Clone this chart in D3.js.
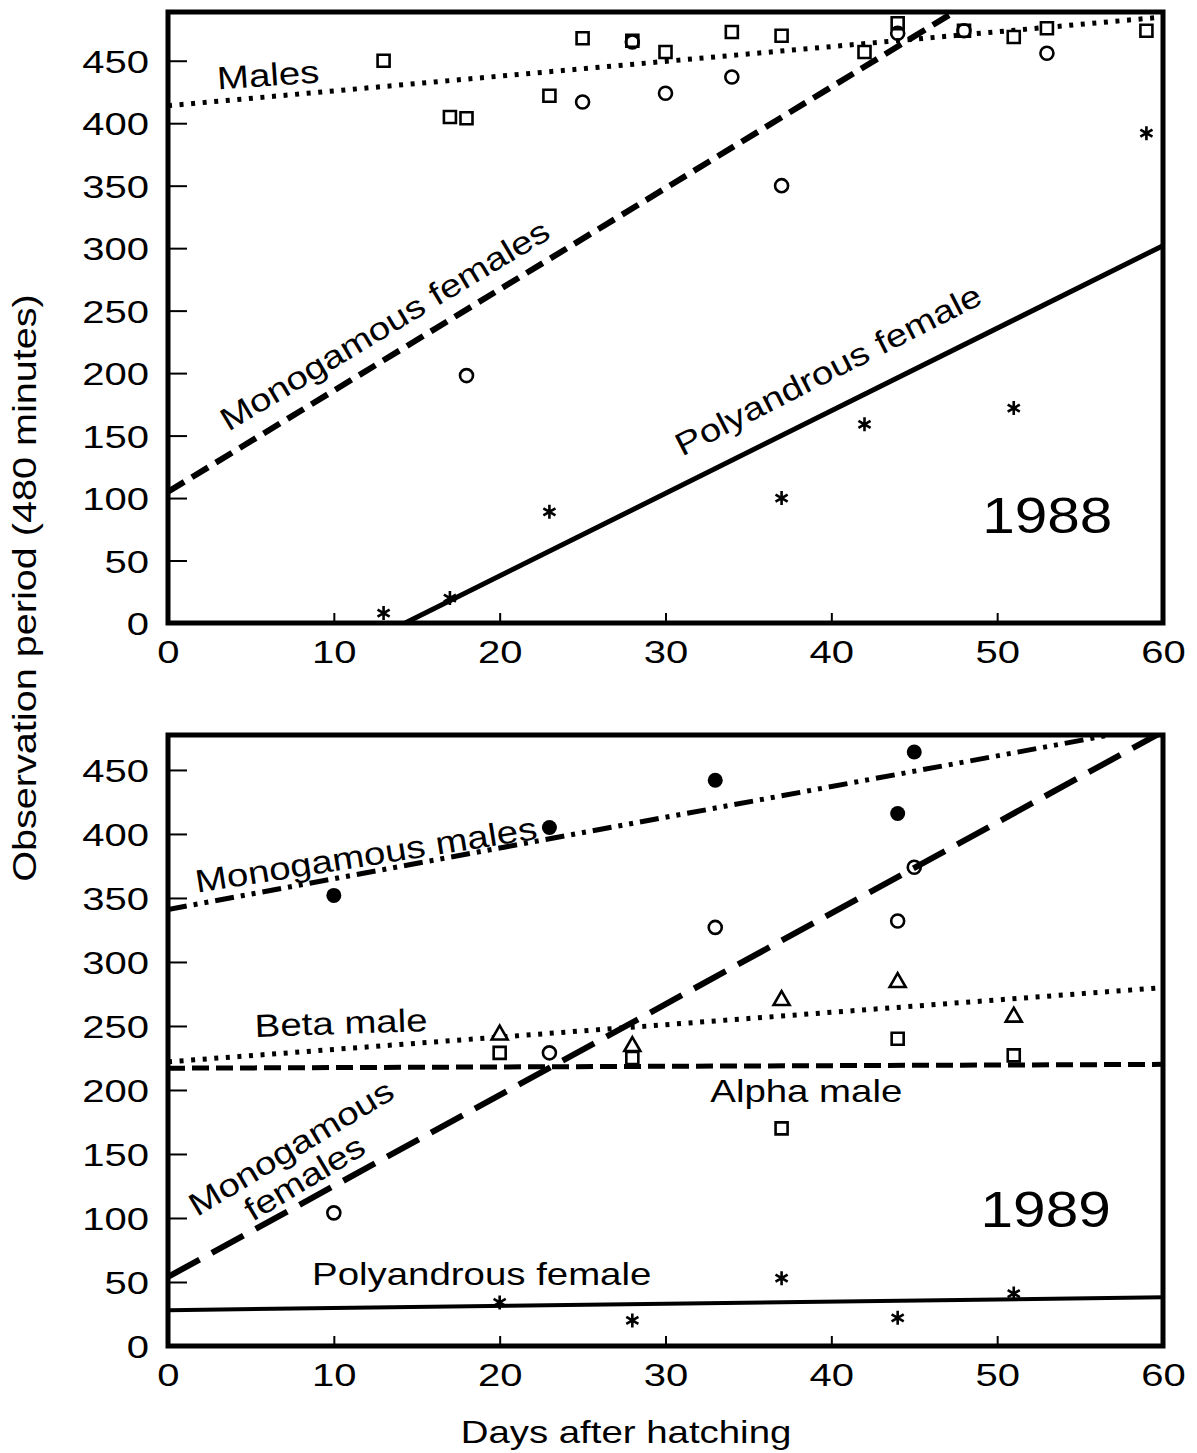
<!DOCTYPE html>
<html>
<head>
<meta charset="utf-8">
<script src="https://cdn.jsdelivr.net/npm/d3@7"></script>
<style>
  html, body { margin: 0; padding: 0; background: #fff; }
  svg { display: block; font-family: "Liberation Sans", Arial, Helvetica, sans-serif; }
</style>
</head>
<body>
<svg id="chart" width="1197" height="1453"></svg>
<script>
// ---- Axis ticks ----
const xTickValues = [0, 10, 20, 30, 40, 50, 60];
const yTickValues = [0, 50, 100, 150, 200, 250, 300, 350, 400, 450];

// ---- 1988: [day after hatching, minutes observed] ----
const males88 = [[13,450],[17,405],[18,404],[23,422],[25,468],[28,466],[30,457],[34,473],[37,470],[42,457],[44,480],[48,474],[51,469],[53,476],[59,474]];
const monoFemales88 = [[18,198],[25,417],[28,465],[30,424],[34,437],[37,350],[44,472],[48,474],[53,456]];
const polyFemale88 = [[13,8],[17,20],[23,89],[37,100],[42,159],[51,172],[59,392]];
// fitted trend lines (end points)
const males88Fit = [[0,414],[60,485]];
const monoFemales88Fit = [[0,105],[60,591]];
const polyFemale88Fit = [[14.3,0],[60,302]];

// ---- 1989 ----
const monoMales89 = [[10,352],[23,405],[33,442],[44,416],[45,464]];
const monoFemales89 = [[10,104],[23,229],[33,327],[44,332],[45,374]];
const betaMale89 = [[20,243],[28,234],[37,270],[44,284],[51,257]];
const alphaMale89 = [[20,229],[28,225],[37,170],[44,240],[51,227]];
const polyFemale89 = [[20,34],[28,20],[37,53],[44,22],[51,41]];
const monoMales89Fit = [[0,341],[60,485]];
const monoFemales89Fit = [[0,54],[60,480]];
const betaMale89Fit = [[0,222],[60,280]];
const alphaMale89Fit = [[0,217],[60,220]];
const polyFemale89Fit = [[0,28],[60,38]];

const svg = d3.select("#chart");
const FONT_SX = 1.2;     // wide sans used for labels
const DIGIT_SX = 1.25;   // wide digits on axes

const left = 168, right = 1163;
const x = d3.scaleLinear().domain([0, 60]).range([left, right]);

// custom asterisk (vertical stroke + two diagonals)
const asteriskPath = (r) => {
  const t = r * Math.sqrt(3) / 2, s = r / 2;
  return `M0,${-r}L0,${r}M${-t},${-s}L${t},${s}M${-t},${s}L${t},${-s}`;
};

function label(g, text, px, py, angle, size, sx) {
  g.append("text")
    .attr("transform", `translate(${px},${py}) rotate(${angle}) scale(${sx},1)`)
    .attr("font-size", size)
    .attr("fill", "#000")
    .text(text);
}

function panel(id, top, bottom, yMax) {
  const y = d3.scaleLinear().domain([0, yMax]).range([bottom, top]);
  const g = svg.append("g").attr("class", "panel-" + id);

  g.append("clipPath").attr("id", "clip-" + id)
    .append("rect").attr("x", left).attr("y", top).attr("width", right - left).attr("height", bottom - top);

  // y axis with inward ticks
  const ya = g.append("g").attr("transform", `translate(${left},0)`)
    .call(d3.axisLeft(y).tickValues(yTickValues).tickSize(-19).tickSizeOuter(0));
  ya.select(".domain").remove();
  ya.selectAll(".tick line").attr("stroke-width", 2).filter(d => d === 0).remove();
  ya.selectAll(".tick text")
    .attr("x", null).attr("dy", "0.36em")
    .attr("transform", `translate(-19,0) scale(${DIGIT_SX},1)`)
    .attr("font-size", 32).attr("font-family", null).attr("fill", "#000");

  // x axis with inward ticks
  const xa = g.append("g").attr("transform", `translate(0,${bottom})`)
    .call(d3.axisBottom(x).tickValues(xTickValues).tickSize(-10).tickSizeOuter(0));
  xa.select(".domain").remove();
  xa.selectAll(".tick line").attr("stroke-width", 2).filter(d => d === 0 || d === 60).remove();
  xa.selectAll(".tick text")
    .attr("y", null).attr("dy", null)
    .attr("transform", `translate(0,40) scale(${DIGIT_SX},1)`)
    .attr("font-size", 32).attr("font-family", null).attr("fill", "#000");

  const plot = g.append("g");
  const lines = plot.append("g").attr("clip-path", `url(#clip-${id})`);
  const line = d3.line().x(d => x(d[0])).y(d => y(d[1]));

  const api = {
    y, g, plot,
    fit(data, width, dash) {
      lines.append("path").attr("d", line(data))
        .attr("fill", "none").attr("stroke", "#000")
        .attr("stroke-width", width).attr("stroke-dasharray", dash || null)
        .attr("stroke-linecap", "butt");
    },
    points(data, kind) {
      const sel = plot.append("g").selectAll("path").data(data).join("path")
        .attr("transform", d => `translate(${x(d[0])},${y(d[1])})`);
      if (kind === "square") {
        sel.attr("d", d3.symbol(d3.symbolSquare, 144)()).attr("fill", "#fff").attr("stroke", "#000").attr("stroke-width", 2.6);
      } else if (kind === "circle") {
        sel.attr("d", d3.symbol(d3.symbolCircle, 133)()).attr("fill", "none").attr("stroke", "#000").attr("stroke-width", 2.6);
      } else if (kind === "dot") {
        sel.attr("d", d3.symbol(d3.symbolCircle, 177)()).attr("fill", "#000");
      } else if (kind === "triangle") {
        sel.attr("d", d3.symbol(d3.symbolTriangle, 111)()).attr("fill", "#fff").attr("stroke", "#000").attr("stroke-width", 2.6);
      } else if (kind === "asterisk") {
        sel.attr("d", asteriskPath(7)).attr("fill", "none").attr("stroke", "#000").attr("stroke-width", 2.6);
      }
    },
    text(t, day, val, angle, size, sx) { label(plot, t, x(day), y(val), angle, size || 32, sx || FONT_SX); },
    frame() {
      g.append("rect").attr("x", left).attr("y", top).attr("width", right - left).attr("height", bottom - top)
        .attr("fill", "none").attr("stroke", "#000").attr("stroke-width", 5);
    }
  };
  return api;
}

// ---------- 1988 ----------
const p1 = panel("1988", 12, 623, 489);
p1.fit(males88Fit, 5, "4 7.6");
p1.fit(monoFemales88Fit, 6, "19 9");
p1.fit(polyFemale88Fit, 5);
p1.points(males88, "square");
p1.points(monoFemales88, "circle");
p1.points(polyFemale88, "asterisk");
p1.text("Males", 3.0, 427, -4);
p1.text("Monogamous females", 3.65, 153, -31);
p1.text("Polyandrous female", 31.0, 133, -27);
p1.text("1988", 49.1, 72, 0, 50, 1.17);
p1.frame();

// ---------- 1989 ----------
const p2 = panel("1989", 735, 1346, 477.3);
p2.fit(monoMales89Fit, 5, "19 7 4 7 4 7");
p2.fit(monoFemales89Fit, 6, "36 14");
p2.fit(betaMale89Fit, 5, "4 7.6");
p2.fit(alphaMale89Fit, 5, "17 7");
p2.fit(polyFemale89Fit, 4);
p2.points(monoMales89, "dot");
p2.points(monoFemales89, "circle");
p2.points(betaMale89, "triangle");
p2.points(alphaMale89, "square");
p2.points(polyFemale89, "asterisk");
p2.text("Monogamous males", 1.75, 354, -9);
p2.text("Beta male", 5.25, 241.4, -2);
p2.text("Alpha male", 32.7, 190.6, 0);
p2.text("Monogamous", 1.75, 100.8, -31);
p2.text("females", 5.1, 96.9, -31);
p2.text("Polyandrous female", 8.69, 47.7, 0);
p2.text("1989", 49.0, 93, 0, 50, 1.17);
p2.frame();

// ---------- axis titles ----------
svg.append("text")
  .attr("transform", `translate(36,588) rotate(-90) scale(${FONT_SX},1)`)
  .attr("text-anchor", "middle").attr("font-size", 33).attr("fill", "#000")
  .text("Observation period (480 minutes)");
svg.append("text")
  .attr("transform", `translate(626,1443) scale(${FONT_SX},1)`)
  .attr("text-anchor", "middle").attr("font-size", 32).attr("fill", "#000")
  .text("Days after hatching");
</script>
</body>
</html>
